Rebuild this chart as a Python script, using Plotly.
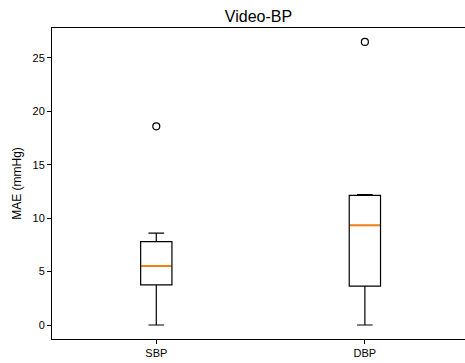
import plotly.graph_objects as go

categories = ["SBP", "DBP"]
positions = [1, 2]
q1 = [3.75, 3.63]
median = [5.53, 9.32]
q3 = [7.81, 12.13]
lower_whisker = [0.0, 0.0]
upper_whisker = [8.6, 12.2]
outliers = [[18.6], [26.5]]

box_width = 0.15
font_family = "Liberation Sans, Arial, Helvetica, sans-serif"

fig = go.Figure()
for i, cat in enumerate(categories):
    fig.add_trace(go.Box(
        x=[positions[i]], q1=[q1[i]], median=[median[i]], q3=[q3[i]],
        lowerfence=[lower_whisker[i]], upperfence=[upper_whisker[i]],
        width=box_width, whiskerwidth=0.5, boxpoints=False,
        fillcolor="white", line=dict(color="black", width=1.2),
        name=cat, showlegend=False, hoverinfo="skip",
    ))
    fig.add_trace(go.Scatter(
        x=[positions[i] - box_width / 2 + 0.003, positions[i] + box_width / 2 - 0.003],
        y=[median[i], median[i]], mode="lines",
        line=dict(color="#ff7f0e", width=1.8), showlegend=False, hoverinfo="skip",
    ))
    fig.add_trace(go.Scatter(
        x=[positions[i]] * len(outliers[i]), y=outliers[i], mode="markers",
        marker=dict(symbol="circle-open", size=7, color="black", line=dict(width=1.2)),
        showlegend=False, hoverinfo="skip",
    ))

fig.update_layout(
    width=465, height=363,
    margin=dict(l=52, r=0, t=28, b=24),
    paper_bgcolor="white", plot_bgcolor="white",
    font=dict(family=font_family, size=11, color="black"),
    title=dict(text="Video-BP", x=0.5, xref="paper", xanchor="center",
               y=1, yref="paper", yanchor="bottom", pad=dict(b=6),
               font=dict(size=16, color="black")),
    xaxis=dict(
        range=[0.5, 2.48], tickmode="array", tickvals=positions, ticktext=categories,
        showgrid=False, zeroline=False, showline=True, linecolor="black", linewidth=1,
        mirror=True, ticks="outside", ticklen=4, tickcolor="black",
    ),
    yaxis=dict(
        range=[-1.31, 27.8], tickvals=[0, 5, 10, 15, 20, 25],
        showgrid=False, zeroline=False, showline=True, linecolor="black", linewidth=1,
        ticks="outside", ticklen=4, tickcolor="black",
        title=dict(text="MAE (mmHg)", font=dict(size=12), standoff=8),
    ),
)

fig.write_html(
    "out.html",
    config={"displayModeBar": False},
    post_script="document.body.style.margin='0';document.body.style.overflow='hidden';",
)
